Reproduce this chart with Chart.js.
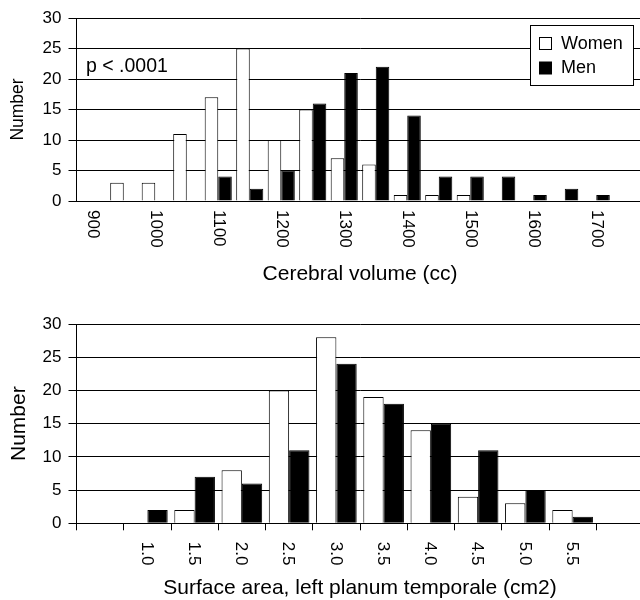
<!DOCTYPE html>
<html>
<head>
<meta charset="utf-8">
<script src="https://cdn.jsdelivr.net/npm/chart.js@4.4.1/dist/chart.umd.min.js"></script>
<style>
  html, body { margin: 0; padding: 0; background: #fff; overflow: hidden; width: 640px; height: 600px; }
  .box { position: absolute; left: 0; width: 660px; }
  #topBox { top: 0; height: 300px; }
  #bottomBox { top: 300px; height: 302px; }
</style>
</head>
<body>
<div class="box" id="topBox"><canvas id="volumeChart"></canvas></div>
<div class="box" id="bottomBox"><canvas id="areaChart"></canvas></div>
<script>
const seriesNames = ['Women', 'Men'];

// cerebral volume, 50cc bins
const volumeBins = [900, 950, 1000, 1050, 1100, 1150, 1200, 1250, 1300, 1350, 1400, 1450, 1500, 1550, 1600, 1650, 1700, 1750];
const volumeTickLabels = ['900', '', '1000', '', '1100', '', '1200', '', '1300', '', '1400', '', '1500', '', '1600', '', '1700', ''];
const volumeWomen = [0, 3, 3, 11, 17, 25, 10, 15, 7, 6, 1, 1, 1, 0, 0, 0, 0, 0];
const volumeMen = [0, 0, 0, 0, 4, 2, 5, 16, 21, 22, 14, 4, 4, 4, 1, 2, 1, 0];

// left planum temporale surface area, 0.5 cm2 bins
const areaBins = [0.5, 1.0, 1.5, 2.0, 2.5, 3.0, 3.5, 4.0, 4.5, 5.0, 5.5, 6.0];
const areaTickLabels = ['', '1.0', '1.5', '2.0', '2.5', '3.0', '3.5', '4.0', '4.5', '5.0', '5.5', ''];
const areaWomen = [0, 0, 2, 8, 20, 28, 19, 14, 4, 3, 2, 0];
const areaMen = [0, 2, 7, 6, 11, 24, 18, 15, 11, 5, 1, 0];

const yMax = 30;
const yStep = 5;
const pText = 'p < .0001';

const FONT = '"Liberation Sans", Arial, sans-serif';
Chart.defaults.font.family = FONT;
Chart.defaults.color = '#000';

// category labels written top-to-bottom under the axis
const downLabels = {
  id: 'downLabels',
  afterDraw(chart, args, opts) {
    const xs = chart.scales.x;
    const ctx = chart.ctx;
    ctx.save();
    ctx.font = '17px ' + FONT;
    ctx.fillStyle = '#000';
    ctx.textAlign = 'left';
    ctx.textBaseline = 'middle';
    opts.labels.forEach((lab, i) => {
      if (!lab) return;
      ctx.save();
      ctx.translate(xs.getPixelForTick(i) + opts.shift, xs.top + opts.gap);
      ctx.rotate(Math.PI / 2);
      ctx.fillText(lab, 0, 0);
      ctx.restore();
    });
    ctx.restore();
  }
};

// boxed legend + p value on the top panel
const boxedLegend = {
  id: 'boxedLegend',
  afterDraw(chart) {
    const ctx = chart.ctx;
    ctx.save();
    ctx.fillStyle = '#fff';
    ctx.strokeStyle = '#000';
    ctx.lineWidth = 1;
    ctx.fillRect(530.5, 25.5, 103, 60);
    ctx.strokeRect(530.5, 25.5, 103, 60);
    ctx.font = '18px ' + FONT;
    ctx.textBaseline = 'middle';
    ctx.textAlign = 'left';
    chart.data.datasets.forEach((ds, i) => {
      const y = 37.5 + i * 24.5;
      ctx.fillStyle = ds.backgroundColor;
      ctx.fillRect(539.5, y, 12, 12);
      ctx.strokeRect(539.5, y, 12, 12);
      ctx.fillStyle = '#000';
      ctx.fillText(ds.label, 561, y + 6.5);
    });
    ctx.font = '19.5px ' + FONT;
    ctx.fillText(pText, 86, 67);
    ctx.restore();
  }
};

function makeDatasets(women, men) {
  return [
    { label: seriesNames[0], data: women, backgroundColor: '#fff', borderColor: '#000', borderWidth: 1 },
    { label: seriesNames[1], data: men, backgroundColor: '#000', borderColor: '#000', borderWidth: 1 }
  ];
}

function makeOptions(cfg) {
  return {
    responsive: true,
    maintainAspectRatio: false,
    animation: false,
    devicePixelRatio: 1,
    layout: { padding: { left: 0, right: 16.5, top: cfg.top, bottom: 0 } },
    datasets: { bar: { categoryPercentage: 0.86, barPercentage: 1.0 } },
    plugins: {
      legend: { display: false },
      tooltip: { enabled: false },
      downLabels: { labels: cfg.tickLabels, gap: cfg.labelGap, shift: cfg.labelShift }
    },
    scales: {
      x: {
        ticks: { display: false },
        grid: { display: cfg.xTicks, offset: true, drawOnChartArea: false, drawTicks: cfg.xTicks, tickLength: 7, color: '#000' },
        border: { display: true, color: '#000', width: 1 },
        title: { display: true, text: cfg.xTitle, font: { size: 21 }, padding: { top: 0, bottom: cfg.titlePad } },
        afterFit(scale) { scale.height = cfg.xHeight; }
      },
      y: {
        min: 0,
        max: yMax,
        ticks: { stepSize: yStep, padding: 7, font: { size: 17 } },
        grid: { color: '#000', tickLength: 8 },
        border: { display: true, color: '#000', width: 1 },
        title: { display: true, text: 'Number', font: { size: cfg.yTitleSize }, padding: { top: cfg.yTitlePad, bottom: 0 } },
        afterFit(scale) { scale.width = 76.5; }
      }
    }
  };
}

new Chart(document.getElementById('volumeChart'), {
  type: 'bar',
  data: { labels: volumeBins, datasets: makeDatasets(volumeWomen, volumeMen) },
  options: makeOptions({
    top: 18, xHeight: 99, xTicks: false, tickLabels: volumeTickLabels, labelGap: 9, labelShift: 0,
    xTitle: 'Cerebral volume (cc)', titlePad: 13, yTitleSize: 17.5, yTitlePad: 7.8
  }),
  plugins: [downLabels, boxedLegend]
});

new Chart(document.getElementById('areaChart'), {
  type: 'bar',
  data: { labels: areaBins, datasets: makeDatasets(areaWomen, areaMen) },
  options: makeOptions({
    top: 24, xHeight: 78.7, xTicks: true, tickLabels: areaTickLabels, labelGap: 18.5, labelShift: -1,
    xTitle: 'Surface area, left planum temporale (cm2)', titlePad: 1, yTitleSize: 21, yTitlePad: 6.6
  }),
  plugins: [downLabels]
});
</script>
</body>
</html>
